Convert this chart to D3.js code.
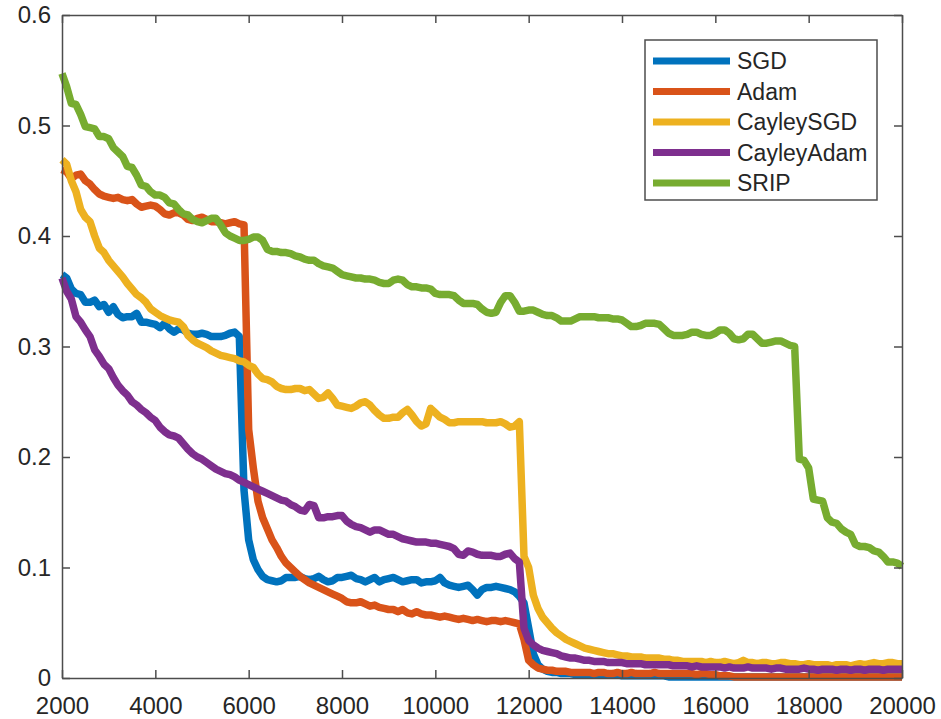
<!DOCTYPE html>
<html>
<head>
<meta charset="utf-8">
<script src="https://cdn.jsdelivr.net/npm/d3@7"></script>
<style>
  body { margin: 0; background: #fff; }
  text { font-family: "Liberation Sans", Arial, sans-serif; fill: #262626; }
</style>
</head>
<body>
<div id="chart"></div>
<script>
// iterations, one point every 100
const iterations = d3.range(2000, 20001, 100);

const sgd = [
  0.365,0.362,0.352,0.348,0.347,0.340,0.340,0.342,0.336,0.338,
  0.331,0.336,0.329,0.326,0.327,0.327,0.330,0.322,0.322,0.321,
  0.320,0.317,0.321,0.316,0.313,0.316,0.315,0.312,0.311,0.311,
  0.312,0.311,0.309,0.309,0.309,0.310,0.312,0.313,0.309,0.170,
  0.125,0.107,0.098,0.092,0.089,0.088,0.087,0.088,0.091,0.091,
  0.091,0.092,0.090,0.089,0.090,0.092,0.089,0.087,0.088,0.091,
  0.091,0.092,0.093,0.090,0.089,0.087,0.089,0.091,0.087,0.089,
  0.090,0.091,0.089,0.087,0.088,0.089,0.089,0.086,0.087,0.087,
  0.088,0.091,0.086,0.084,0.083,0.082,0.083,0.084,0.080,0.075,
  0.080,0.082,0.082,0.083,0.082,0.081,0.080,0.078,0.074,0.068,
  0.045,0.022,0.012,0.008,0.006,0.005,0.005,0.004,0.004,0.004,
  0.003,0.003,0.003,0.003,0.003,0.003,0.003,0.003,0.003,0.003,
  0.002,0.002,0.002,0.002,0.002,0.002,0.002,0.002,0.002,0.002,
  0.001,0.001,0.001,0.001,0.001,0.001,0.001,0.001,0.001,0.001,
  0.001,0.001,0.001,0.001,0.001,0.001,0.001,0.001,0.001,0.001,
  0.001,0.001,0.001,0.001,0.001,0.001,0.001,0.001,0.001,0.001,
  0.001,0.001,0.001,0.001,0.001,0.001,0.001,0.001,0.001,0.001,
  0.001,0.001,0.001,0.001,0.001,0.001,0.001,0.001,0.001,0.001,0.001
];

const adam = [
  0.460,0.458,0.452,0.455,0.456,0.450,0.447,0.442,0.438,0.436,
  0.435,0.434,0.435,0.433,0.432,0.433,0.429,0.426,0.427,0.428,
  0.427,0.424,0.420,0.419,0.421,0.421,0.419,0.415,0.414,0.416,
  0.417,0.415,0.413,0.413,0.412,0.411,0.412,0.413,0.411,0.410,
  0.225,0.190,0.160,0.145,0.135,0.125,0.118,0.110,0.104,0.100,
  0.096,0.092,0.089,0.086,0.084,0.082,0.080,0.078,0.076,0.074,
  0.072,0.069,0.068,0.068,0.069,0.067,0.065,0.066,0.064,0.063,
  0.062,0.062,0.060,0.062,0.059,0.058,0.060,0.058,0.057,0.057,
  0.056,0.055,0.056,0.055,0.054,0.053,0.054,0.053,0.052,0.053,
  0.052,0.051,0.052,0.052,0.051,0.052,0.051,0.050,0.049,0.035,
  0.016,0.012,0.009,0.008,0.007,0.007,0.006,0.006,0.006,0.005,
  0.005,0.005,0.005,0.005,0.004,0.005,0.005,0.004,0.004,0.005,
  0.004,0.004,0.005,0.004,0.004,0.004,0.004,0.005,0.004,0.004,
  0.004,0.004,0.004,0.004,0.004,0.004,0.003,0.004,0.004,0.003,
  0.003,0.002,0.002,0.002,0.001,0.001,0.001,0.001,0.001,0.001,
  0.001,0.001,0.001,0.001,0.001,0.001,0.001,0.001,0.001,0.001,
  0.001,0.001,0.001,0.001,0.001,0.001,0.001,0.001,0.001,0.001,
  0.001,0.001,0.001,0.001,0.001,0.001,0.001,0.001,0.001,0.001,0.001
];

const cayleySgd = [
  0.469,0.465,0.450,0.440,0.424,0.417,0.413,0.400,0.389,0.385,
  0.378,0.373,0.368,0.363,0.357,0.352,0.347,0.344,0.340,0.334,
  0.331,0.328,0.326,0.324,0.323,0.322,0.318,0.310,0.306,0.303,
  0.301,0.299,0.296,0.294,0.292,0.291,0.290,0.289,0.287,0.286,
  0.283,0.281,0.275,0.271,0.270,0.268,0.264,0.262,0.261,0.261,
  0.262,0.262,0.260,0.261,0.257,0.253,0.254,0.258,0.253,0.247,
  0.246,0.245,0.244,0.246,0.249,0.250,0.247,0.242,0.238,0.235,
  0.235,0.236,0.236,0.240,0.243,0.238,0.232,0.228,0.230,0.244,
  0.240,0.236,0.234,0.231,0.231,0.232,0.232,0.232,0.232,0.232,
  0.232,0.231,0.231,0.231,0.232,0.230,0.227,0.228,0.232,0.110,
  0.100,0.075,0.063,0.055,0.050,0.045,0.041,0.038,0.035,0.033,
  0.031,0.029,0.027,0.026,0.025,0.024,0.023,0.022,0.022,0.021,
  0.020,0.020,0.019,0.019,0.019,0.018,0.018,0.018,0.018,0.017,
  0.017,0.016,0.016,0.015,0.015,0.015,0.015,0.015,0.014,0.015,
  0.014,0.014,0.015,0.014,0.013,0.014,0.016,0.014,0.014,0.013,
  0.014,0.014,0.013,0.013,0.014,0.014,0.013,0.013,0.012,0.012,
  0.013,0.012,0.012,0.012,0.012,0.011,0.012,0.012,0.012,0.011,
  0.012,0.013,0.012,0.013,0.014,0.013,0.013,0.014,0.014,0.013,0.013
];

const cayleyAdam = [
  0.362,0.350,0.343,0.327,0.322,0.315,0.309,0.297,0.291,0.284,
  0.280,0.272,0.265,0.260,0.256,0.250,0.247,0.243,0.240,0.236,
  0.233,0.227,0.223,0.220,0.219,0.217,0.212,0.207,0.203,0.200,
  0.198,0.195,0.192,0.189,0.187,0.185,0.184,0.182,0.179,0.177,
  0.175,0.173,0.171,0.169,0.167,0.165,0.163,0.161,0.160,0.157,
  0.155,0.152,0.151,0.157,0.156,0.145,0.145,0.146,0.146,0.147,
  0.147,0.142,0.139,0.137,0.136,0.134,0.132,0.134,0.134,0.132,
  0.130,0.130,0.128,0.126,0.125,0.124,0.123,0.123,0.123,0.122,
  0.122,0.121,0.120,0.119,0.117,0.112,0.111,0.115,0.114,0.112,
  0.111,0.111,0.111,0.110,0.110,0.112,0.113,0.108,0.105,0.045,
  0.034,0.030,0.027,0.025,0.024,0.023,0.022,0.020,0.019,0.018,
  0.018,0.017,0.016,0.016,0.015,0.015,0.015,0.014,0.014,0.014,
  0.014,0.013,0.013,0.013,0.013,0.012,0.012,0.012,0.012,0.012,
  0.012,0.011,0.011,0.011,0.011,0.010,0.011,0.010,0.010,0.010,
  0.010,0.010,0.009,0.010,0.009,0.009,0.009,0.010,0.009,0.009,
  0.009,0.009,0.008,0.009,0.009,0.008,0.008,0.008,0.008,0.009,
  0.008,0.008,0.007,0.008,0.008,0.008,0.007,0.008,0.008,0.007,
  0.008,0.008,0.007,0.008,0.008,0.008,0.007,0.008,0.008,0.008,0.008
];

const srip = [
  0.547,0.535,0.520,0.519,0.510,0.499,0.498,0.497,0.490,0.490,
  0.488,0.480,0.476,0.472,0.463,0.462,0.455,0.446,0.445,0.440,
  0.437,0.437,0.435,0.430,0.429,0.424,0.420,0.419,0.415,0.413,
  0.412,0.414,0.416,0.416,0.410,0.403,0.400,0.398,0.396,0.396,
  0.397,0.399,0.399,0.396,0.388,0.386,0.386,0.385,0.385,0.384,
  0.382,0.381,0.379,0.378,0.378,0.375,0.373,0.372,0.371,0.368,
  0.365,0.364,0.363,0.362,0.362,0.361,0.361,0.360,0.358,0.357,
  0.357,0.360,0.361,0.360,0.356,0.354,0.354,0.353,0.353,0.352,
  0.348,0.347,0.347,0.347,0.346,0.342,0.339,0.339,0.339,0.338,
  0.334,0.331,0.330,0.331,0.340,0.346,0.346,0.340,0.332,0.332,
  0.333,0.333,0.331,0.329,0.328,0.328,0.326,0.323,0.323,0.323,
  0.325,0.327,0.327,0.327,0.327,0.326,0.326,0.326,0.325,0.325,
  0.324,0.321,0.318,0.318,0.319,0.321,0.321,0.321,0.320,0.316,
  0.312,0.310,0.310,0.310,0.311,0.313,0.313,0.311,0.310,0.310,
  0.312,0.315,0.315,0.312,0.307,0.306,0.307,0.311,0.311,0.307,
  0.303,0.303,0.304,0.305,0.305,0.303,0.301,0.300,0.198,0.197,
  0.190,0.162,0.161,0.160,0.145,0.141,0.140,0.135,0.132,0.130,
  0.121,0.119,0.119,0.118,0.115,0.114,0.110,0.105,0.105,0.104,0.101
];

const seriesNames = ["SGD", "Adam", "CayleySGD", "CayleyAdam", "SRIP"];
const seriesValues = [sgd, adam, cayleySgd, cayleyAdam, srip];
const colors = ["#0072BD", "#D95319", "#EDB120", "#7E2F8E", "#77AC30"];
const xTicks = [2000, 4000, 6000, 8000, 10000, 12000, 14000, 16000, 18000, 20000];
const yTicks = [0, 0.1, 0.2, 0.3, 0.4, 0.5, 0.6];

const width = 941, height = 719;
const margin = { top: 15, right: 39, bottom: 41, left: 62 };

const svg = d3.select("#chart")
    .append("svg")
    .attr("width", width)
    .attr("height", height);

const xScale = d3.scaleLinear()
    .domain([2000, 20000])
    .range([margin.left, width - margin.right]);

const yScale = d3.scaleLinear()
    .domain([0, 0.6])
    .range([height - margin.bottom, margin.top]);

// lines
const line = d3.line()
    .x((d, i) => xScale(iterations[i]))
    .y(d => yScale(d));

seriesValues.forEach((vals, i) => {
    svg.append("path")
        .datum(vals)
        .attr("fill", "none")
        .attr("stroke", colors[i])
        .attr("stroke-width", 7.5)
        .attr("stroke-linejoin", "round")
        .attr("stroke-linecap", "butt")
        .attr("d", line);
});

// axes, MATLAB style box with inward ticks
const axisColor = "#4d4d4d";
const tickLen = 8;

const xBottom = svg.append("g")
    .attr("transform", `translate(0,${height - margin.bottom})`)
    .call(d3.axisBottom(xScale).tickValues(xTicks).tickSizeInner(-tickLen).tickSizeOuter(0).tickPadding(19).tickFormat(d3.format("d")));
const xTop = svg.append("g")
    .attr("transform", `translate(0,${margin.top})`)
    .call(d3.axisTop(xScale).tickValues(xTicks).tickSizeInner(-tickLen).tickSizeOuter(0).tickFormat(""));
const yLeft = svg.append("g")
    .attr("transform", `translate(${margin.left},0)`)
    .call(d3.axisLeft(yScale).tickValues(yTicks).tickSizeInner(-tickLen).tickSizeOuter(0).tickPadding(11).tickFormat(d => d === 0 ? "0" : d3.format(".1f")(d)));
const yRight = svg.append("g")
    .attr("transform", `translate(${width - margin.right},0)`)
    .call(d3.axisRight(yScale).tickValues(yTicks).tickSizeInner(-tickLen).tickSizeOuter(0).tickFormat(""));

[xBottom, xTop, yLeft, yRight].forEach(g => {
    g.select(".domain").attr("stroke", axisColor).attr("stroke-width", 1.5);
    g.selectAll(".tick line").attr("stroke", axisColor).attr("stroke-width", 1.5);
    g.selectAll(".tick text")
        .style("font-family", "'Liberation Sans', Arial, sans-serif")
        .style("font-size", "24px")
        .attr("fill", "#262626");
});

// legend
const legend = svg.append("g");
legend.append("rect")
    .attr("x", 645).attr("y", 40)
    .attr("width", 232).attr("height", 160)
    .attr("fill", "#fff")
    .attr("stroke", axisColor)
    .attr("stroke-width", 1.5);

seriesNames.forEach((name, i) => {
    const yy = 61 + i * 30.5;
    legend.append("line")
        .attr("x1", 653).attr("x2", 730)
        .attr("y1", yy).attr("y2", yy)
        .attr("stroke", colors[i])
        .attr("stroke-width", 7);
    legend.append("text")
        .attr("x", 737).attr("y", yy)
        .attr("dy", "0.36em")
        .style("font-size", "23px")
        .text(name);
});
</script>
</body>
</html>
